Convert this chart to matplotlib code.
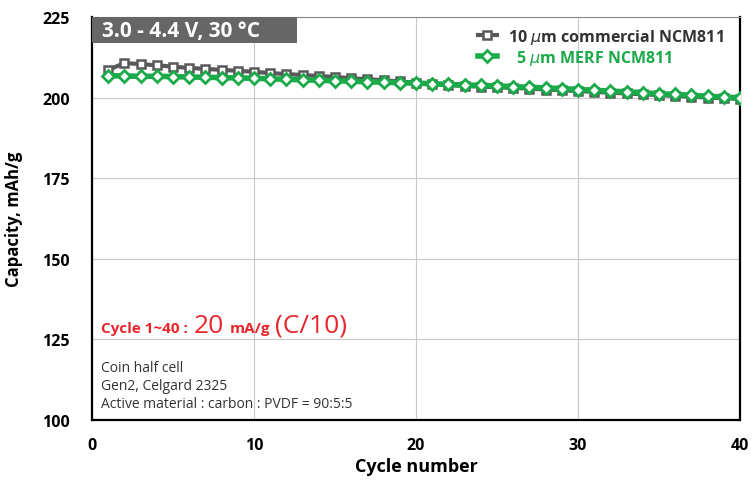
import numpy as np
import matplotlib.pyplot as plt
from matplotlib.patches import Rectangle

plt.rcParams['font.family'] = ['Open Sans', 'DejaVu Sans']

# Datos
ciclos = np.arange(1, 41)
cap_comercial = [208.6, 210.7, 210.4, 210.0, 209.6, 209.2, 208.9, 208.6, 208.3, 208.0,
                 207.6, 207.3, 207.0, 206.7, 206.4, 206.0, 205.7, 205.4, 205.0, 204.6,
                 204.2, 203.9, 203.6, 203.4, 203.2, 203.0, 202.8, 202.5, 202.3, 202.0,
                 201.8, 201.5, 201.3, 201.0, 200.8, 200.5, 200.3, 200.0, 199.8, 199.6]
cap_merf = [206.8, 206.7, 206.6, 206.6, 206.5, 206.4, 206.3, 206.2, 206.1, 206.0,
            205.8, 205.7, 205.5, 205.4, 205.2, 205.1, 204.9, 204.8, 204.6, 204.5,
            204.3, 204.1, 203.9, 203.8, 203.6, 203.4, 203.2, 203.0, 202.8, 202.5,
            202.3, 202.0, 201.8, 201.5, 201.2, 201.0, 200.7, 200.4, 200.2, 199.9]

xticks = [0, 10, 20, 30, 40]
yticks = [100, 125, 150, 175, 200, 225]

gris = '#595959'
verde = '#1aaa4a'

fig = plt.figure(figsize=(7.52, 4.81), dpi=100)
ax = fig.add_axes([92/752, 1-421/481, 648/752, 403/481])

ax.plot(ciclos, cap_comercial, color=gris, lw=3, marker='s', ms=6,
        mfc='white', mec=gris, mew=1.8, label='10 $\\mu$m commercial NCM811', zorder=3)
ax.plot(ciclos, cap_merf, color=verde, lw=4, marker='D', ms=6.5,
        mfc='white', mec=verde, mew=2, label='  5 $\\mu$m MERF NCM811', zorder=4)

ax.set_xlim(0, 40)
ax.set_ylim(100, 225)
ax.set_xticks(xticks)
ax.set_yticks(yticks)
ax.grid(color='#c8c8c8', lw=0.8)
ax.set_axisbelow(True)
for s in ['left', 'bottom', 'right']:
    ax.spines[s].set_linewidth(1.6)
ax.spines['top'].set_color('#888888')
ax.tick_params(axis='x', length=0, pad=12, labelsize=11.5)
ax.tick_params(axis='y', length=0, pad=16, labelsize=11.5)
for lab in ax.get_xticklabels() + ax.get_yticklabels():
    lab.set_fontweight('bold')
ax.set_xlabel('Cycle number', fontsize=13, fontweight='bold', labelpad=3)
ax.set_ylabel('Capacity, mAh/g', fontsize=12, fontweight='bold', labelpad=14)

leg = ax.legend(loc='upper right', frameon=False, fontsize=11.5, handlelength=1.2,
                borderaxespad=0.2, labelspacing=0.15, handletextpad=0.7,
                bbox_to_anchor=(0.99, 1.0))
for t in leg.get_texts():
    t.set_fontweight('bold')
leg.get_texts()[0].set_color('#333333')
leg.get_texts()[1].set_color(verde)

# recuadro gris del titulo
ax.add_patch(Rectangle((0, 1 - 26/403), 205/648, 26/403, transform=ax.transAxes,
                       fc='#666666', ec='none', zorder=5))
ax.text(10/648, 1 - 13/403, '3.0 - 4.4 V, 30 \u00b0C', transform=ax.transAxes,
        ha='left', va='center', color='white', fontsize=15, fontweight='bold', zorder=6)

# texto rojo con tamanos mezclados
rojo = '#e8262b'
y_rojo = 127.3
fig.canvas.draw()
r = fig.canvas.get_renderer()
def siguiente(t, hueco):
    bb = t.get_window_extent(r)
    return ax.transData.inverted().transform((bb.x1 + hueco, bb.y0))[0]

t1 = ax.text(0.55, y_rojo, 'Cycle 1~40 :', color=rojo, fontsize=11, fontweight='bold')
t2 = ax.text(siguiente(t1, 6), y_rojo, '20', color=rojo, fontsize=19)
t3 = ax.text(siguiente(t2, 6), y_rojo, 'mA/g', color=rojo, fontsize=11, fontweight='bold')
ax.text(siguiente(t3, 4), y_rojo, '(C/10)', color=rojo, fontsize=19)

ax.text(0.55, 115.3, 'Coin half cell', fontsize=10, color='#333333')
ax.text(0.55, 109.6, 'Gen2, Celgard 2325', fontsize=10, color='#333333')
ax.text(0.55, 103.9, 'Active material : carbon : PVDF = 90:5:5', fontsize=10, color='#333333')

fig.savefig('out.png', dpi=100)
